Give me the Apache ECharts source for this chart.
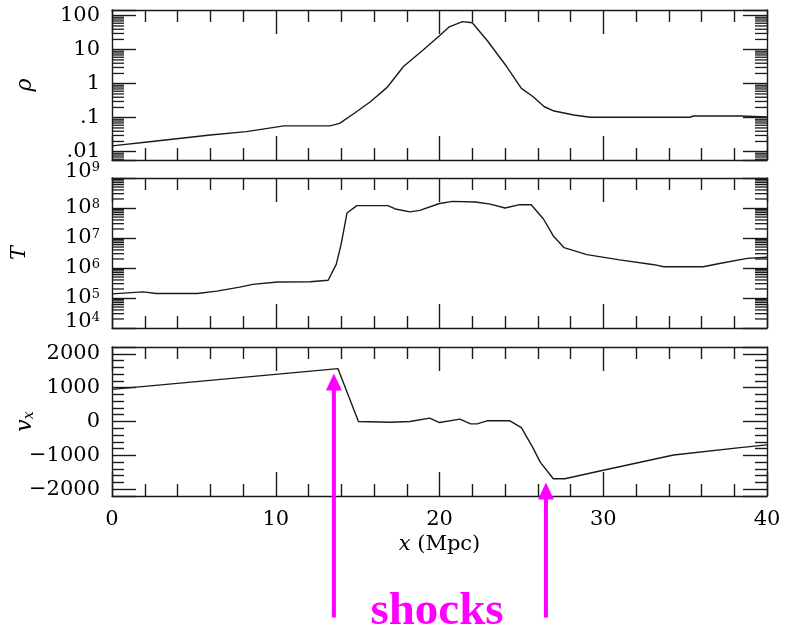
<!DOCTYPE html>
<html>
<head>
<meta charset="utf-8">
<script src="https://cdn.jsdelivr.net/npm/echarts@6/dist/echarts.min.js"></script>
<style>html,body{margin:0;padding:0;background:#fff}#c{width:796px;height:633px}</style>
</head>
<body>
<div id="c"></div>
<script>
// ---- data ----
var rhoX = [0, 2.3, 6.0, 8.2, 10.5, 13.3, 13.9, 14.8, 15.8, 16.8, 17.0, 17.8, 19.0, 20.05, 20.6, 21.4, 22.0, 22.9, 24.1, 25.0, 25.7, 26.4, 27.0, 28.2, 29.2, 35.3, 35.5, 38.4, 40];
var rhoY = [0.0148, 0.0197, 0.031, 0.039, 0.0575, 0.0575, 0.068, 0.135, 0.30, 0.78, 1.03, 3.2, 9.8, 27, 47, 67, 62, 19, 3.2, 0.73, 0.42, 0.21, 0.157, 0.12, 0.103, 0.103, 0.112, 0.112, 0.106];

var tX = [0, 1.9, 2.7, 5.2, 6.4, 7.8, 8.6, 10.1, 12.1, 13.2, 13.7, 14.0, 14.35, 14.95, 16.85, 17.3, 18.2, 18.8, 20.0, 20.8, 22.2, 23.1, 24.0, 24.9, 25.6, 26.35, 26.95, 27.6, 29.0, 31.0, 33.1, 33.7, 36.1, 37.1, 38.8, 40];
var tY = [1.37e5, 1.6e5, 1.41e5, 1.41e5, 1.69e5, 2.31e5, 2.85e5, 3.41e5, 3.49e5, 3.89e5, 1.35e6, 6.5e6, 6.8e7, 1.2e8, 1.2e8, 9.3e7, 7.4e7, 8.3e7, 1.41e8, 1.66e8, 1.58e8, 1.35e8, 1.0e8, 1.29e8, 1.29e8, 4.3e7, 1.17e7, 4.8e6, 2.8e6, 1.86e6, 1.29e6, 1.1e6, 1.1e6, 1.41e6, 2.09e6, 2.29e6];

var vX = [0, 13.8, 15.05, 17.0, 18.2, 19.4, 20.0, 21.25, 21.9, 22.3, 22.9, 24.3, 25.0, 25.7, 26.15, 26.95, 27.65, 30.0, 34.3, 38.35, 40];
var vY = [950, 1560, 0, -20, 0, 100, -30, 70, -70, -70, 20, 20, -180, -770, -1200, -1690, -1690, -1440, -990, -770, -690];

var xTickLabels = ['0', '10', '20', '30', '40'];
var rhoTickLabels = { '-2': '.01', '-1': '.1', '0': '1', '1': '10', '2': '100' };
var logMinorMultipliers = [2, 3, 4, 5, 6, 7, 8, 9];
var rhoDecades = [0.001, 0.01, 0.1, 1, 10, 100];
var tDecades = [1e4, 1e5, 1e6, 1e7, 1e8];
var tEndExponents = [4, 9];

var shockX = [13.55, 26.5];
var shockTipV = [1420, -1800];
var shockBaseV = -5790;
var shockLabel = 'shocks';

// ---- helpers ----
function zip(a, b) { return a.map(function (v, i) { return [v, b[i]]; }); }
function minorTicks(decades, lo, hi) {
  var out = [];
  decades.forEach(function (d) {
    logMinorMultipliers.forEach(function (m) {
      var v = d * m;
      if (v > lo && v < hi) out.push([0, v]);
    });
  });
  return out;
}

var INK = '#1a1a1a';
var SERIF = '"DejaVu Serif", serif';
var FS = 21;
var lineSt = { color: INK, width: 1.4 };

var grids = [
  { left: 112, top: 10, width: 655, height: 150, outerBoundsMode: 'none', containLabel: false },
  { left: 112, top: 178, width: 655, height: 150, outerBoundsMode: 'none', containLabel: false },
  { left: 112, top: 347, width: 655, height: 149, outerBoundsMode: 'none', containLabel: false }
];

var xAxes = [], yAxes = [];
grids.forEach(function (g, gi) {
  ['bottom', 'top'].forEach(function (pos) {
    var showLab = (gi === 2 && pos === 'bottom');
    var ax = {
      type: 'value', gridIndex: gi, position: pos, min: 0, max: 40, interval: 10,
      axisLine: { show: true, onZero: false, lineStyle: lineSt },
      axisTick: { show: true, inside: true, length: 24, lineStyle: lineSt },
      minorTick: { show: true, splitNumber: 5, length: 12, lineStyle: lineSt },
      splitLine: { show: false },
      axisLabel: {
        show: showLab, margin: 13, fontFamily: SERIF, fontSize: FS, color: '#000',
        formatter: function (v) { return xTickLabels[Math.round(v / 10)] || ''; }
      }
    };
    if (showLab) {
      ax.name = '{i|x} (Mpc)';
      ax.nameLocation = 'middle';
      ax.nameGap = 38;
      ax.nameMoveOverlap = false;
      ax.nameTextStyle = {
        fontFamily: SERIF, fontSize: FS, color: '#000',
        rich: { i: { fontFamily: SERIF, fontSize: FS, fontStyle: 'italic', color: '#000' } }
      };
    }
    xAxes.push(ax);
  });
});

function yBase(gi, pos) {
  return {
    gridIndex: gi, position: pos,
    axisLine: { show: true, onZero: false, lineStyle: lineSt },
    axisTick: { show: true, inside: true, length: 24, lineStyle: lineSt },
    splitLine: { show: false },
    minorSplitLine: { show: false },
    nameMoveOverlap: false
  };
}

// panel 1: rho (log)
['left', 'right'].forEach(function (pos) {
  var a = yBase(0, pos);
  a.type = 'log'; a.logBase = 10; a.min = 0.0057; a.max = 147;
  a.minorTick = { show: false };
  a.axisLabel = {
    show: pos === 'left', margin: 12, fontFamily: SERIF, fontSize: FS, color: '#000',
    interval: 0, hideOverlap: false,
    formatter: function (v) {
      var e = Math.log10(v), r = Math.round(e);
      if (Math.abs(e - r) > 1e-6) return '';
      return rhoTickLabels[String(r)] || '';
    }
  };
  if (pos === 'left') {
    a.name = 'ρ'; a.nameLocation = 'middle'; a.nameRotate = 90; a.nameGap = 76;
    a.nameTextStyle = { fontFamily: SERIF, fontSize: 22, fontStyle: 'italic', color: '#000' };
  }
  yAxes.push(a);
});
// panel 2: T (log)
['left', 'right'].forEach(function (pos) {
  var a = yBase(1, pos);
  a.type = 'log'; a.logBase = 10; a.min = 1e4; a.max = 1e9;
  a.minorTick = { show: false };
  a.axisLabel = {
    show: pos === 'left', margin: 12, color: '#000',
    interval: 0, hideOverlap: false,
    formatter: function (v) {
      var e = Math.log10(v), r = Math.round(e);
      if (Math.abs(e - r) > 1e-6) return '';
      if (tEndExponents.indexOf(r) >= 0) return '{be|10}{se|' + r + '}';
      return '{b|10}{s|' + r + '}';
    },
    rich: {
      b: { fontFamily: SERIF, fontSize: FS, color: '#000', lineHeight: 20 },
      s: { fontFamily: SERIF, fontSize: 13, color: '#000', lineHeight: 13, padding: [0, 0, 7, 0] },
      be: { fontFamily: SERIF, fontSize: FS, color: '#000', lineHeight: 20, padding: [0, 0, 13, 0] },
      se: { fontFamily: SERIF, fontSize: 13, color: '#000', lineHeight: 13, padding: [0, 0, 20, 0] }
    }
  };
  if (pos === 'left') {
    a.name = 'T'; a.nameLocation = 'middle'; a.nameRotate = 90; a.nameGap = 82;
    a.nameTextStyle = { fontFamily: SERIF, fontSize: 21, fontStyle: 'italic', color: '#000' };
  }
  yAxes.push(a);
});
// panel 3: v_x (linear)
['left', 'right'].forEach(function (pos) {
  var a = yBase(2, pos);
  a.type = 'value'; a.min = -2200; a.max = 2200; a.splitNumber = 4;
  a.minorTick = { show: true, splitNumber: 5, length: 12, lineStyle: lineSt };
  a.axisLabel = {
    show: pos === 'left', margin: 12, fontFamily: SERIF, fontSize: FS, color: '#000',
    interval: 0, hideOverlap: false,
    formatter: function (v) {
      if (Math.abs(v) > 2000 || v % 1000 !== 0) return '';
      return String(v).replace('-', '\u2212');
    }
  };
  if (pos === 'left') {
    a.name = '{v|v}{x|x}'; a.nameLocation = 'middle'; a.nameRotate = 90; a.nameGap = 76;
    a.nameTextStyle = {
      rich: {
        v: { fontFamily: SERIF, fontSize: 22, fontStyle: 'italic', color: '#000' },
        x: { fontFamily: SERIF, fontSize: 14, fontStyle: 'italic', color: '#000', verticalAlign: 'bottom', padding: [6, 0, 0, 0] }
      }
    };
  }
  yAxes.push(a);
});

function minorTickRender(params, api) {
  var v = api.value(1);
  var p0 = api.coord([0, v]);
  var p1 = api.coord([40, v]);
  var st = { stroke: INK, lineWidth: 1.3 };
  return {
    type: 'group', children: [
      { type: 'line', shape: { x1: p0[0], y1: p0[1], x2: p0[0] + 12, y2: p0[1] }, style: st },
      { type: 'line', shape: { x1: p1[0] - 12, y1: p1[1], x2: p1[0], y2: p1[1] }, style: st }
    ]
  };
}

function arrowRender(params, api) {
  var tip = api.coord([api.value(0), api.value(1)]);
  var base = api.coord([api.value(0), shockBaseV]);
  var hw = 8, hh = 17;
  return {
    type: 'group', children: [
      { type: 'rect', shape: { x: tip[0] - 2, y: tip[1] + hh - 1, width: 4, height: base[1] - tip[1] - hh + 1 }, style: { fill: '#ff00ff' } },
      { type: 'polygon', shape: { points: [[tip[0] - hw, tip[1] + hh], [tip[0] + hw, tip[1] + hh], [tip[0], tip[1]]] }, style: { fill: '#ff00ff' } }
    ]
  };
}

var lineSeries = function (xi, yi, data) {
  return {
    type: 'line', xAxisIndex: xi, yAxisIndex: yi, data: data,
    showSymbol: false, symbol: 'none', lineStyle: { color: INK, width: 1.4 }, z: 3, silent: true
  };
};

var option = {
  animation: false,
  backgroundColor: '#fff',
  grid: grids,
  xAxis: xAxes,
  yAxis: yAxes,
  series: [
    lineSeries(0, 0, zip(rhoX, rhoY)),
    lineSeries(2, 2, zip(tX, tY)),
    lineSeries(4, 4, zip(vX, vY)),
    { type: 'custom', xAxisIndex: 0, yAxisIndex: 0, data: minorTicks(rhoDecades, 0.0057, 147), renderItem: minorTickRender, silent: true },
    { type: 'custom', xAxisIndex: 2, yAxisIndex: 2, data: minorTicks(tDecades, 1e4, 1e9), renderItem: minorTickRender, silent: true },
    { type: 'custom', xAxisIndex: 4, yAxisIndex: 4, data: zip(shockX, shockTipV), renderItem: arrowRender, clip: false, silent: true, z: 10 }
  ],
  graphic: [
    { type: 'text', x: 437, y: 612, style: { text: shockLabel, font: 'bold 47px "Liberation Serif", serif', fill: '#ff00ff', textAlign: 'center', textVerticalAlign: 'middle' } }
  ]
};

var chart = echarts.init(document.getElementById('c'), null, { renderer: 'canvas' });
chart.setOption(option);
</script>
</body>
</html>
